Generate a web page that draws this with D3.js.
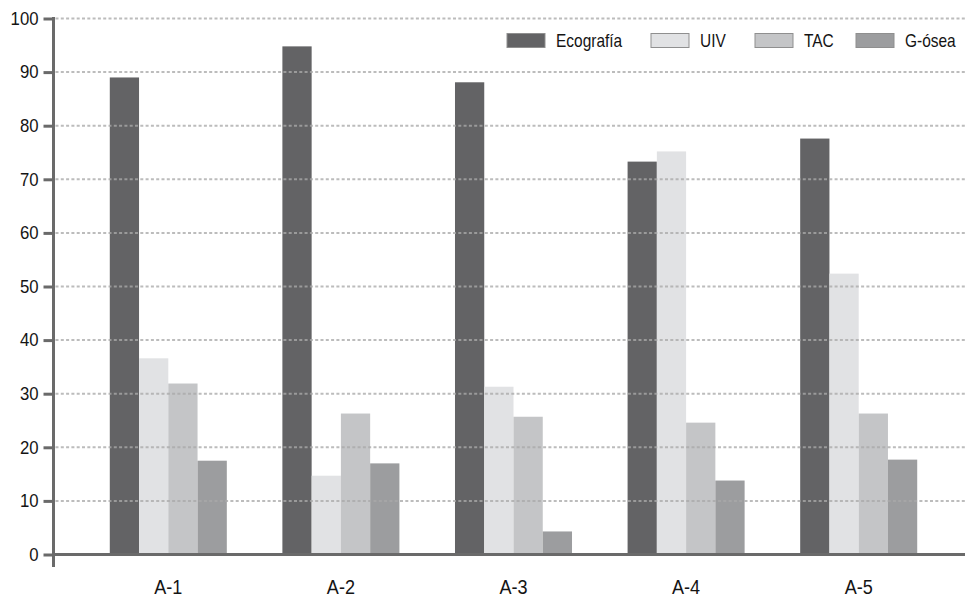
<!DOCTYPE html>
<html>
<head>
<meta charset="utf-8">
<script src="https://cdn.jsdelivr.net/npm/d3@7"></script>
<style>
  html, body { margin: 0; padding: 0; background: #fff; }
  svg { display: block; }
  text { font-family: "Liberation Sans", Arial, sans-serif; fill: #141414; }
</style>
</head>
<body>
<svg id="chart" width="965" height="605"></svg>
<script>
// Groups along the x axis
const categories = ["A-1", "A-2", "A-3", "A-4", "A-5"];
// Imaging methods (one bar per method in each group)
const seriesNames = ["Ecografía", "UIV", "TAC", "G-ósea"];
// Values per method, in category order
const ecografia = [89.0, 94.8, 88.1, 73.3, 77.6];
const uiv       = [36.6, 14.7, 31.3, 75.2, 52.4];
const tac       = [31.9, 26.3, 25.7, 24.6, 26.3];
const gOsea     = [17.5, 17.0, 4.3, 13.8, 17.7];
// Y axis ticks
const yTicks = [0, 10, 20, 30, 40, 50, 60, 70, 80, 90, 100];

const seriesValues = [ecografia, uiv, tac, gOsea];
const colors = ["#636365", "#e1e2e4", "#c4c5c7", "#9c9d9f"];

const svg = d3.select("#chart");
const axisColor = "#6a6a6a";
const axisX = 53.5, baseY = 554.5;

// Narrow the glyphs horizontally around each text's own anchor point
function condense(sel, sx) {
  sel.each(function () {
    const t = d3.select(this);
    const x = +t.attr("x") || 0;
    const yv = +t.attr("y") || 0;
    t.attr("x", 0).attr("y", 0)
      .attr("transform", `translate(${x},${yv}) scale(${sx},1)`);
  });
}

const y = d3.scaleLinear().domain([0, 100]).range([baseY, 18.5]);
const x0 = d3.scaleBand().domain(categories).range([82, 945])
  .paddingInner(0.322).paddingOuter(0.161);
const x1 = d3.scaleBand().domain(seriesNames).range([0, x0.bandwidth()]);

// Bars
const rows = categories.map((c, i) => ({
  cat: c,
  vals: seriesNames.map((s, j) => ({ key: s, value: seriesValues[j][i], color: colors[j] }))
}));
svg.append("g").selectAll("g").data(rows).join("g")
  .attr("transform", d => `translate(${x0(d.cat)},0)`)
  .selectAll("rect").data(d => d.vals).join("rect")
  .attr("x", d => x1(d.key))
  .attr("width", x1.bandwidth())
  .attr("y", d => y(d.value))
  .attr("height", d => baseY - y(d.value))
  .attr("fill", d => d.color);

// Dotted gridlines, drawn over the bars
svg.append("g").selectAll("line").data(yTicks.filter(t => t > 0)).join("line")
  .attr("x1", axisX + 2).attr("x2", 965)
  .attr("y1", d => y(d)).attr("y2", d => y(d))
  .attr("stroke", "#a9a9a9").attr("stroke-opacity", 0.78)
  .attr("stroke-width", 2).attr("stroke-dasharray", "3,2.3");

// Y axis
const yAxis = svg.append("g").attr("transform", `translate(${axisX},0)`)
  .call(d3.axisLeft(y).tickValues(yTicks).tickSize(10).tickPadding(5).tickFormat(d3.format("d")));
yAxis.select(".domain").remove();
yAxis.selectAll(".tick line").attr("stroke", axisColor).attr("stroke-width", 3);
yAxis.selectAll(".tick text").attr("font-size", 18).attr("fill", "#141414")
  .style("font-family", "'Liberation Sans', Arial, sans-serif")
  .call(condense, 0.93);
svg.append("line").attr("x1", axisX).attr("x2", axisX).attr("y1", 17).attr("y2", 567)
  .attr("stroke", axisColor).attr("stroke-width", 3);

// X axis
const xAxis = svg.append("g").attr("transform", `translate(0,${baseY})`)
  .call(d3.axisBottom(x0).tickSize(0).tickPadding(25));
xAxis.select(".domain").remove();
xAxis.selectAll(".tick text").attr("font-size", 21).attr("fill", "#141414")
  .style("font-family", "'Liberation Sans', Arial, sans-serif")
  .call(condense, 0.86);
svg.append("line").attr("x1", axisX - 1.5).attr("x2", 965).attr("y1", baseY).attr("y2", baseY)
  .attr("stroke", axisColor).attr("stroke-width", 3);

// Legend
const legendX = [507, 651, 755, 856];
const legend = svg.append("g").selectAll("g").data(seriesNames).join("g")
  .attr("transform", (d, i) => `translate(${legendX[i]},33.5)`);
legend.append("rect").attr("width", 38).attr("height", 14)
  .attr("fill", (d, i) => colors[i]).attr("stroke", "#8f8f8f").attr("stroke-width", 1);
legend.append("text").attr("x", 49).attr("y", 7).attr("dy", "0.36em")
  .attr("font-size", 18).text(d => d)
  .call(condense, 0.86);
</script>
</body>
</html>
